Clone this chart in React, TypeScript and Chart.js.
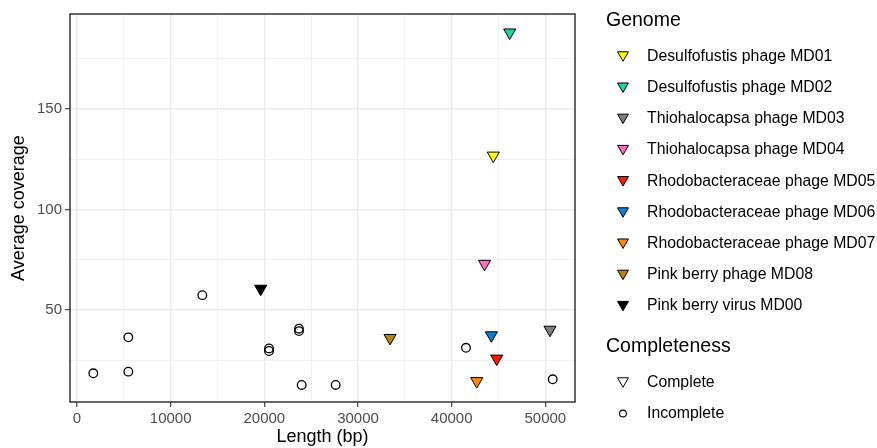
import React, { useEffect, useRef } from 'react';
import { Chart, registerables } from 'chart.js';

Chart.register(...registerables);

const genomeNames = [
  'Desulfofustis phage MD01',
  'Desulfofustis phage MD02',
  'Thiohalocapsa phage MD03',
  'Thiohalocapsa phage MD04',
  'Rhodobacteraceae phage MD05',
  'Rhodobacteraceae phage MD06',
  'Rhodobacteraceae phage MD07',
  'Pink berry phage MD08',
  'Pink berry virus MD00',
];
const genomeColors = ['#FFFF00', '#1CD3A6', '#7F7F7F', '#FF6FC0', '#FF1A00', '#0A7FDB', '#FF8A00', '#B8860B', '#000000'];
const genomeLength = [44450, 46200, 50500, 43510, 44810, 44240, 42680, 33420, 19610];
const genomeCoverage = [126.8, 188.1, 40.1, 72.9, 25.7, 37.3, 14.5, 36.0, 60.5];

const incompleteLength = [1740, 5480, 5480, 13380, 20500, 20500, 23700, 23700, 23990, 27620, 41530, 50790];
const incompleteCoverage = [18.4, 36.3, 19.2, 57.3, 30.8, 29.5, 40.6, 39.4, 12.6, 12.6, 31.1, 15.4];

const completenessLabels = ['Complete', 'Incomplete'];

const xMajorTicks = [0, 10000, 20000, 30000, 40000, 50000];
const xMinorTicks = [5000, 15000, 25000, 35000, 45000];
const yMajorTicks = [50, 100, 150];
const yMinorTicks = [25, 75, 125, 175];

const FONT = "'Liberation Sans', Arial, Helvetica, sans-serif";

function downTriangle(ctx: CanvasRenderingContext2D, cx: number, cy: number, r: number, fill: string) {
  const s = Math.sin(Math.PI / 3) * r;
  ctx.beginPath();
  ctx.moveTo(cx, cy + r);
  ctx.lineTo(cx - s, cy - r / 2);
  ctx.lineTo(cx + s, cy - r / 2);
  ctx.closePath();
  ctx.fillStyle = fill;
  ctx.fill();
  ctx.strokeStyle = '#000000';
  ctx.lineWidth = 1;
  ctx.stroke();
}

const panelAndLegend = {
  id: 'panelAndLegend',
  afterDraw(chart: any) {
    const ctx: CanvasRenderingContext2D = chart.ctx;
    const a = chart.chartArea;
    ctx.save();
    // panel border
    ctx.strokeStyle = '#333333';
    ctx.lineWidth = 1.5;
    ctx.strokeRect(a.left, a.top, a.right - a.left, a.bottom - a.top);

    // legend
    const markerX = 623;
    const textX = 647;
    ctx.textBaseline = 'middle';
    ctx.textAlign = 'left';
    ctx.fillStyle = '#000000';
    ctx.font = `19.5px ${FONT}`;
    ctx.fillText('Genome', 606, 21);
    ctx.font = `15.8px ${FONT}`;
    const r = 6.3;
    genomeNames.forEach((name, i) => {
      const y = 56.5 + i * 31.2;
      downTriangle(ctx, markerX, y - r / 4, r, genomeColors[i]);
      ctx.fillStyle = '#000000';
      ctx.fillText(name, textX, y);
    });
    ctx.font = `19.5px ${FONT}`;
    ctx.fillStyle = '#000000';
    ctx.fillText('Completeness', 606, 347);
    ctx.font = `15.8px ${FONT}`;
    const yc = 382.5;
    downTriangle(ctx, markerX, yc - r / 4, r, '#FFFFFF');
    ctx.fillStyle = '#000000';
    ctx.fillText(completenessLabels[0], textX, yc);
    const yi = 413.5;
    ctx.beginPath();
    ctx.arc(markerX, yi, 3.4, 0, Math.PI * 2);
    ctx.strokeStyle = '#000000';
    ctx.lineWidth = 1.1;
    ctx.stroke();
    ctx.fillText(completenessLabels[1], textX, yi);
    ctx.restore();
  },
};

export default function App() {
  const ref = useRef<HTMLCanvasElement | null>(null);
  useEffect(() => {
    if (!ref.current) return;
    const datasets: any[] = genomeNames.map((name, i) => ({
      label: name,
      data: [{ x: genomeLength[i], y: genomeCoverage[i] }],
      pointStyle: 'triangle',
      pointRotation: 180,
      pointRadius: 7,
      backgroundColor: genomeColors[i],
      borderColor: '#000000',
      borderWidth: 1,
    }));
    datasets.push({
      label: 'Incomplete',
      data: incompleteLength.map((x, i) => ({ x, y: incompleteCoverage[i] })),
      pointStyle: 'circle',
      pointRadius: 4.3,
      backgroundColor: 'rgba(255,255,255,0)',
      borderColor: '#000000',
      borderWidth: 1.3,
    });
    const isMajorX = (v: number) => xMajorTicks.includes(v);
    const isMajorY = (v: number) => yMajorTicks.includes(v);
    const chart = new Chart(ref.current, {
      type: 'scatter',
      data: { datasets },
      plugins: [panelAndLegend],
      options: {
        animation: false,
        responsive: false,
        events: [],
        layout: { padding: { left: 0, right: 302, top: 14, bottom: 0 } },
        plugins: { legend: { display: false }, tooltip: { enabled: false } },
        scales: {
          x: {
            type: 'linear',
            min: -747,
            max: 53170,
            afterBuildTicks: (s: any) => {
              s.ticks = [...xMajorTicks, ...xMinorTicks].sort((a, b) => a - b).map((v) => ({ value: v }));
            },
            afterFit: (s: any) => {
              s.height = 46;
            },
            ticks: {
              autoSkip: false,
              maxRotation: 0,
              minRotation: 0,
              padding: 3,
              color: '#4D4D4D',
              font: { family: FONT, size: 15 },
              callback: (v: any) => (isMajorX(Number(v)) ? String(v) : ''),
            },
            grid: {
              color: (c: any) => (isMajorX(c.tick?.value) ? '#EBEBEB' : '#F0F0F0'),
              lineWidth: (c: any) => (isMajorX(c.tick?.value) ? 1.4 : 0.9),
              tickColor: (c: any) => (isMajorX(c.tick?.value) ? '#333333' : 'rgba(0,0,0,0)'),
              tickLength: 5,
              tickWidth: 1.1,
              drawTicks: true,
            },
            border: { display: false },
            title: {
              display: true,
              text: 'Length (bp)',
              color: '#000000',
              font: { family: FONT, size: 18 },
              padding: { top: 0, bottom: 0 },
            },
          },
          y: {
            type: 'linear',
            min: 4.1,
            max: 197.3,
            afterBuildTicks: (s: any) => {
              s.ticks = [...yMajorTicks, ...yMinorTicks].sort((a, b) => a - b).map((v) => ({ value: v }));
            },
            afterFit: (s: any) => {
              s.width = 70;
            },
            ticks: {
              autoSkip: false,
              padding: 3,
              color: '#4D4D4D',
              font: { family: FONT, size: 15 },
              callback: (v: any) => (isMajorY(Number(v)) ? String(v) : ''),
            },
            grid: {
              color: (c: any) => (isMajorY(c.tick?.value) ? '#EBEBEB' : '#F0F0F0'),
              lineWidth: (c: any) => (isMajorY(c.tick?.value) ? 1.4 : 0.9),
              tickColor: (c: any) => (isMajorY(c.tick?.value) ? '#333333' : 'rgba(0,0,0,0)'),
              tickLength: 5,
              tickWidth: 1.1,
              drawTicks: true,
            },
            border: { display: false },
            title: {
              display: true,
              text: 'Average coverage',
              color: '#000000',
              font: { family: FONT, size: 18 },
              padding: { top: 8.5, bottom: 0 },
            },
          },
        },
      },
    } as any);
    return () => chart.destroy();
  }, []);
  return (
    <div style={{ position: 'fixed', left: 0, top: 0, width: 877, height: 448, background: '#FFFFFF' }}>
      <canvas ref={ref} width={877} height={448} style={{ display: 'block' }} />
    </div>
  );
}
